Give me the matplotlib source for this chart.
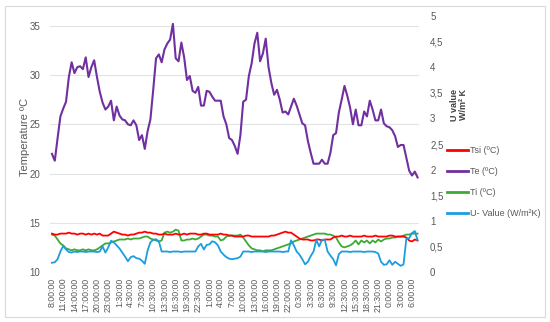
import matplotlib
matplotlib.use("Agg")
import matplotlib.pyplot as plt
import matplotlib.patches as patches
from matplotlib.ticker import FuncFormatter

plt.rcParams["font.family"] = ["Liberation Sans", "DejaVu Sans"]

# --------------------
# data (one reading every 45 min, labels every 4th reading)
# --------------------
tick_labels = ["8:00:00", "11:00:00", "14:00:00", "17:00:00", "20:00:00", "23:00:00",
               "1:30:00", "4:30:00", "7:30:00", "10:30:00", "13:30:00", "16:30:00",
               "19:30:00", "22:30:00", "1:00:00", "4:00:00", "7:00:00", "10:00:00",
               "13:00:00", "16:00:00", "19:00:00", "22:00:00", "0:30:00", "3:30:00",
               "6:30:00", "9:30:00", "12:30:00", "15:30:00", "18:30:00", "21:30:00",
               "0:00:00", "3:00:00", "6:00:00"]

tsi = [13.9, 13.8, 13.8, 13.9, 13.9, 13.9, 14.0, 13.9, 13.9, 13.8,
       13.9, 13.9, 13.8, 13.9, 13.8, 13.9, 13.8, 13.9, 13.7, 13.7,
       13.7, 13.9, 14.1, 14.0, 13.9, 13.8, 13.8, 13.7, 13.8, 13.8,
       13.9, 14.0, 14.0, 14.1, 14.0, 14.0, 13.9, 13.9, 13.8, 13.8,
       13.9, 13.8, 13.8, 13.8, 13.9, 13.8, 13.8, 13.9, 13.8, 13.9,
       13.9, 13.9, 13.8, 13.8, 13.9, 13.9, 13.8, 13.8, 13.8, 13.8,
       13.9, 13.8, 13.8, 13.7, 13.7, 13.6, 13.6, 13.6, 13.6, 13.7,
       13.7, 13.6, 13.6, 13.6, 13.6, 13.6, 13.6, 13.6, 13.7, 13.7,
       13.8, 13.9, 14.0, 14.1, 14.0, 14.0, 13.8, 13.6, 13.4, 13.3,
       13.3, 13.3, 13.2, 13.2, 13.3, 13.3, 13.2, 13.3, 13.3, 13.3,
       13.5, 13.6, 13.6, 13.7, 13.6, 13.6, 13.7, 13.6, 13.6, 13.6,
       13.6, 13.7, 13.6, 13.6, 13.6, 13.7, 13.6, 13.6, 13.6, 13.6,
       13.7, 13.7, 13.6, 13.6, 13.6, 13.6, 13.5, 13.2, 13.1, 13.3, 13.2]

te = [22.0, 21.3, 23.6, 25.8, 26.6, 27.3, 29.8, 31.3, 30.2, 30.8,
      30.9, 30.6, 31.8, 29.8, 30.8, 31.5, 29.8, 28.3, 27.2, 26.5,
      26.8, 27.4, 25.4, 26.8, 25.9, 25.5, 25.4, 25.0, 24.9, 25.4,
      24.9, 23.4, 23.9, 22.5, 24.3, 25.5, 28.5, 31.7, 32.1, 31.3,
      32.6, 33.2, 33.6, 35.2, 31.7, 31.4, 33.3, 31.8, 29.5, 29.9,
      28.4, 28.2, 28.8, 26.9, 26.9, 28.4, 28.3, 27.8, 27.4, 27.4,
      27.4, 25.8, 25.0, 23.6, 23.4, 22.8, 22.0, 23.9, 27.3, 27.5,
      29.9, 31.2, 33.2, 34.3, 31.4, 32.2, 33.7, 30.8, 29.2, 28.0,
      28.5, 27.5, 26.2, 26.3, 26.0, 26.8, 27.6, 26.9, 26.0, 25.1,
      24.9, 23.3, 22.1, 21.0, 21.0, 21.0, 21.4, 21.0, 21.0, 22.1,
      23.9, 24.1, 26.2, 27.5, 28.9, 27.9, 26.7, 25.0, 26.5, 24.9,
      24.9, 26.3, 25.8, 27.4, 26.5, 25.4, 25.4, 26.5, 25.1, 24.8,
      24.7, 24.4, 23.8, 22.7, 22.9, 22.9, 21.6, 20.3, 19.8, 20.2, 19.6]

ti = [13.8, 13.7, 13.3, 12.9, 12.7, 12.4, 12.3, 12.2, 12.3, 12.2,
      12.2, 12.3, 12.2, 12.3, 12.2, 12.2, 12.3, 12.5, 12.7, 12.9,
      12.9, 13.0, 13.1, 13.2, 13.3, 13.3, 13.3, 13.4, 13.3, 13.4,
      13.4, 13.4, 13.5, 13.6, 13.6, 13.4, 13.3, 13.2, 13.1, 13.2,
      14.0, 14.1, 14.0, 14.1, 14.3, 14.2, 13.2, 13.2, 13.3, 13.3,
      13.4, 13.3, 13.4, 13.6, 13.8, 13.8, 13.7, 13.7, 13.6, 13.6,
      13.2, 13.3, 13.6, 13.7, 13.7, 13.7, 13.7, 13.8, 13.5, 13.1,
      12.7, 12.4, 12.3, 12.2, 12.2, 12.1, 12.2, 12.2, 12.2, 12.3,
      12.4, 12.5, 12.6, 12.7, 12.8, 12.9, 13.1, 13.2, 13.3, 13.4,
      13.5, 13.6, 13.7, 13.8, 13.9, 13.9, 13.9, 13.9, 13.8, 13.8,
      13.7, 13.5, 13.0, 12.6, 12.5, 12.6, 12.7, 12.9, 13.2, 12.8,
      13.2, 13.0, 13.2, 12.9, 13.2, 13.0, 13.3, 13.1, 13.3, 13.4,
      13.4, 13.5, 13.5, 13.6, 13.6, 13.7, 13.8, 13.8, 13.9, 13.9, 13.9]

u_value = [0.18, 0.19, 0.25, 0.40, 0.51, 0.44, 0.39, 0.38, 0.40, 0.39,
           0.40, 0.40, 0.39, 0.40, 0.40, 0.40, 0.39, 0.40, 0.50, 0.38,
           0.48, 0.61, 0.58, 0.52, 0.46, 0.38, 0.30, 0.21, 0.29, 0.31,
           0.27, 0.26, 0.22, 0.16, 0.42, 0.58, 0.63, 0.64, 0.60, 0.40,
           0.40, 0.40, 0.39, 0.40, 0.40, 0.40, 0.39, 0.40, 0.40, 0.40,
           0.40, 0.40, 0.50, 0.55, 0.44, 0.53, 0.54, 0.60, 0.58, 0.52,
           0.40, 0.34, 0.29, 0.26, 0.25, 0.26, 0.27, 0.30, 0.40, 0.40,
           0.40, 0.39, 0.40, 0.40, 0.40, 0.40, 0.39, 0.40, 0.40, 0.40,
           0.40, 0.40, 0.39, 0.40, 0.40, 0.62, 0.52, 0.40, 0.34, 0.25,
           0.15, 0.20, 0.31, 0.40, 0.63, 0.50, 0.63, 0.63, 0.40, 0.32,
           0.25, 0.13, 0.35, 0.40, 0.40, 0.40, 0.39, 0.40, 0.40, 0.40,
           0.40, 0.39, 0.40, 0.40, 0.40, 0.39, 0.36, 0.20, 0.14, 0.15,
           0.23, 0.14, 0.20, 0.16, 0.12, 0.15, 0.65, 0.66, 0.76, 0.80, 0.62]

x = list(range(len(te)))

grey = "#595959"

# --------------------
# figure
# --------------------
fig = plt.figure(figsize=(5.5, 3.22), dpi=100)
fig.patch.set_facecolor("white")
fig.patches.append(patches.Rectangle((5 / 550, 5 / 322), 540 / 550, 311 / 322,
                                     transform=fig.transFigure, fill=False,
                                     edgecolor="#D9D9D9", linewidth=0.8))

ax = fig.add_axes([50 / 550, 50 / 322, 369 / 550, 256 / 322])
ax2 = ax.twinx()

l1, = ax.plot(x, tsi, color="#FF0000", linewidth=1.3, label="Tsi (ºC)", zorder=3)
l2, = ax.plot(x, te, color="#7030A0", linewidth=1.5, label="Te (ºC)", zorder=3)
l3, = ax.plot(x, ti, color="#3DAA35", linewidth=1.3, label="Ti (ºC)", zorder=2)
l4, = ax2.plot(x, u_value, color="#1B9DDE", linewidth=1.3, label="U- Value (W/m²K)")

ax.set_xlim(-0.7, 130.5)
ax.set_ylim(10, 36)
ax2.set_ylim(0, 5)

ax.set_yticks([10, 15, 20, 25, 30, 35])
ax2.set_yticks([0, 0.5, 1, 1.5, 2, 2.5, 3, 3.5, 4, 4.5, 5])
ax2.yaxis.set_major_formatter(FuncFormatter(lambda v, p: f"{v:g}".replace(".", ",")))

ax.set_xticks(x[::4])
ax.set_xticklabels(tick_labels, rotation=90, fontsize=6.3, color=grey)

ax.yaxis.grid(True, color="#E3E3E3", linewidth=0.8)
ax.set_axisbelow(True)

for a in (ax, ax2):
    for s in a.spines.values():
        s.set_visible(False)
    a.tick_params(length=0)

ax.tick_params(axis="y", labelsize=7, labelcolor=grey, pad=7)
ax.tick_params(axis="x", pad=4)
ax2.tick_params(axis="y", labelsize=7, labelcolor=grey, pad=8)

fig.text(25 / 550, 1 - 137 / 322, "Temperature ºC", rotation=90, fontsize=8,
         color=grey, ha="center", va="center")
fig.text(459 / 550, 1 - 105 / 322, "U value\nW/m² K", rotation=90, fontsize=6.5,
         fontweight="bold", color="#404040", ha="center", va="center",
         multialignment="center", linespacing=1.1)

leg = fig.legend(handles=[l1, l2, l3, l4], loc="center left",
                 bbox_to_anchor=(447 / 550, 1 - 182 / 322), frameon=False,
                 fontsize=6.5, handlelength=2.3, handletextpad=0.2,
                 labelspacing=1.35, borderpad=0, borderaxespad=0)
for t in leg.get_texts():
    t.set_color(grey)
for h in leg.legend_handles:
    h.set_linewidth(2)

plt.savefig("out.png", dpi=100)
plt.close()
